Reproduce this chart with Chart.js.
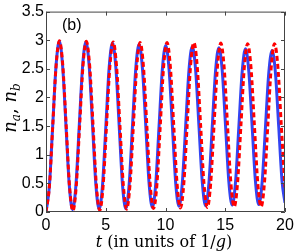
<!DOCTYPE html>
<html>
<head>
<meta charset="utf-8">
<script src="https://cdn.jsdelivr.net/npm/chart.js@4.4.0/dist/chart.umd.min.js"></script>
<style>
	html, body { margin: 0; padding: 0; background: #fff; }
	canvas { display: block; }
</style>
</head>
<body>
<canvas id="chart" width="300" height="252"></canvas>
<script>
	"use strict";

	// n_a (blue, solid)
	var blueT = [
		0, 0.278, 0.557, 0.835, 1.113, 1.391, 1.670, 1.948,
		2.226, 2.504, 2.783, 3.061, 3.339, 3.617, 3.896, 4.174,
		4.452, 4.730, 5.009, 5.287, 5.565, 5.843, 6.122, 6.400,
		6.678, 6.956, 7.235, 7.513, 7.791, 8.069, 8.348, 8.626,
		8.904, 9.182, 9.461, 9.739, 10.017, 10.295, 10.574, 10.852,
		11.130, 11.408, 11.687, 11.965, 12.243, 12.521, 12.800, 13.078,
		13.356, 13.634, 13.913, 14.191, 14.469, 14.747, 15.026, 15.304,
		15.582, 15.860, 16.139, 16.417, 16.695, 16.973, 17.252, 17.530,
		17.808, 18.086, 18.365, 18.643, 18.921, 19.199, 19.478, 19.756,
		20
	];
	var blueN = [
		0, 0.44, 1.49, 2.54, 2.98, 2.55, 1.51, 0.47,
		0.04, 0.47, 1.51, 2.54, 2.97, 2.54, 1.51, 0.48,
		0.05, 0.47, 1.50, 2.53, 2.95, 2.53, 1.51, 0.48,
		0.06, 0.48, 1.50, 2.51, 2.93, 2.51, 1.51, 0.50,
		0.08, 0.49, 1.50, 2.50, 2.91, 2.50, 1.51, 0.51,
		0.10, 0.51, 1.50, 2.48, 2.89, 2.48, 1.50, 0.52,
		0.11, 0.51, 1.49, 2.47, 2.87, 2.47, 1.50, 0.52,
		0.12, 0.52, 1.49, 2.45, 2.85, 2.45, 1.49, 0.53,
		0.13, 0.52, 1.48, 2.43, 2.82, 2.43, 1.48, 0.53,
		0.16
	];

	// n_b (red, dashed)
	var redT = [
		0, 0.281, 0.563, 0.844, 1.125, 1.406, 1.688, 1.969,
		2.250, 2.531, 2.813, 3.094, 3.375, 3.656, 3.938, 4.219,
		4.500, 4.781, 5.063, 5.344, 5.625, 5.906, 6.188, 6.469,
		6.750, 7.031, 7.313, 7.594, 7.875, 8.156, 8.438, 8.719,
		9.000, 9.281, 9.563, 9.844, 10.125, 10.406, 10.688, 10.969,
		11.250, 11.531, 11.813, 12.094, 12.375, 12.656, 12.938, 13.219,
		13.500, 13.781, 14.063, 14.344, 14.625, 14.906, 15.188, 15.469,
		15.750, 16.031, 16.313, 16.594, 16.875, 17.156, 17.438, 17.719,
		18.000, 18.281, 18.563, 18.844, 19.125, 19.406, 19.688, 19.969,
		20
	];
	var redN = [
		0, 0.44, 1.50, 2.55, 2.99, 2.56, 1.51, 0.45,
		0.02, 0.45, 1.50, 2.55, 2.98, 2.55, 1.51, 0.46,
		0.03, 0.46, 1.50, 2.54, 2.97, 2.54, 1.51, 0.48,
		0.05, 0.48, 1.51, 2.54, 2.96, 2.54, 1.51, 0.48,
		0.06, 0.48, 1.51, 2.54, 2.96, 2.54, 1.52, 0.49,
		0.07, 0.49, 1.52, 2.54, 2.96, 2.54, 1.52, 0.50,
		0.08, 0.50, 1.52, 2.53, 2.95, 2.53, 1.52, 0.51,
		0.09, 0.51, 1.52, 2.52, 2.94, 2.52, 1.52, 0.51,
		0.09, 0.51, 1.52, 2.52, 2.94, 2.53, 1.52, 0.52,
		0.43
	];

	var xTicks = [0, 5, 10, 15, 20];
	var yTicks = [0, 0.5, 1, 1.5, 2, 2.5, 3, 3.5];

	var axisColor = '#444';
	var tickFont = { family: "'Liberation Sans', Arial, sans-serif", size: 16 };
	var serif = "'DejaVu Serif', 'Liberation Serif', serif";

	function points( xs, ys ) {
		return xs.map(function( x, i ) { return { x: x, y: ys[i] }; });
	}

	// draw a run of text pieces (with subscript offsets) starting at x
	function drawRun( ctx, pieces, x, y ) {
		pieces.forEach(function( p ) {
			ctx.font = p.font;
			ctx.fillText(p.text, x, y + (p.dy || 0));
			x += ctx.measureText(p.text).width;
		});
	}

	function runWidth( ctx, pieces ) {
		var w = 0;
		pieces.forEach(function( p ) {
			ctx.font = p.font;
			w += ctx.measureText(p.text).width;
		});
		return w;
	}

	// box around the plot, inward ticks, axis titles and panel tag
	const frame = {
		id: 'matlab_frame',
		afterDraw: (chart) => {
			const ctx = chart.ctx;
			const {top, left, right, bottom} = chart.chartArea;
			const xs = chart.scales.x, ys = chart.scales.y;
			const tl = 4;

			ctx.save();
			ctx.strokeStyle = axisColor;
			ctx.lineWidth = 1;
			ctx.beginPath();
			ctx.rect(left + 0.5, top + 0.5, right - left - 1, bottom - top - 1);
			xTicks.forEach(function( v ) {
				var px = Math.round(xs.getPixelForValue(v)) + 0.5;
				ctx.moveTo(px, bottom); ctx.lineTo(px, bottom - tl);
				ctx.moveTo(px, top); ctx.lineTo(px, top + tl);
			});
			yTicks.forEach(function( v ) {
				var py = Math.round(ys.getPixelForValue(v)) + 0.5;
				ctx.moveTo(left, py); ctx.lineTo(left + tl, py);
				ctx.moveTo(right, py); ctx.lineTo(right - tl, py);
			});
			ctx.stroke();

			ctx.fillStyle = '#000';
			ctx.textBaseline = 'alphabetic';
			ctx.textAlign = 'left';

			// panel tag
			ctx.font = "16px 'Liberation Sans', Arial, sans-serif";
			ctx.fillText('(b)', 62, 30);

			// x title
			var xt = [
				{ text: 't', font: 'italic 16px ' + serif },
				{ text: ' (in units of 1/', font: '16px ' + serif },
				{ text: 'g', font: 'italic 16px ' + serif },
				{ text: ')', font: '16px ' + serif }
			];
			var w = runWidth(ctx, xt);
			drawRun(ctx, xt, 164 - w / 2, 247);

			// y title, rotated
			var yt = [
				{ text: 'n', font: 'italic 18px ' + serif },
				{ text: 'a', font: 'italic 12px ' + serif, dy: 4 },
				{ text: ', ', font: '18px ' + serif },
				{ text: 'n', font: 'italic 18px ' + serif },
				{ text: 'b', font: 'italic 12px ' + serif, dy: 4 }
			];
			ctx.translate(16, 108);
			ctx.rotate(-Math.PI / 2);
			w = runWidth(ctx, yt);
			drawRun(ctx, yt, -w / 2, 0);
			ctx.restore();
		}
	};

	const config = {
		type: 'line',
		data: {
			datasets: [{
				label: 'n_b',
				data: points(redT, redN),
				borderColor: '#ff0000',
				borderWidth: 3,
				borderDash: [5, 3],
				cubicInterpolationMode: 'monotone',
				pointRadius: 0,
				fill: false,
				order: 0
			}, {
				label: 'n_a',
				data: points(blueT, blueN),
				borderColor: '#3344f2',
				borderWidth: 3,
				cubicInterpolationMode: 'monotone',
				pointRadius: 0,
				fill: false,
				order: 1
			}]
		},
		options: {
			responsive: false,
			animation: false,
			layout: { padding: { top: 10, right: 15, left: 0, bottom: 0 } },
			plugins: {
				legend: { display: false },
				tooltip: { enabled: false }
			},
			scales: {
				x: {
					type: 'linear',
					min: 0,
					max: 20,
					afterBuildTicks: (s) => { s.ticks = xTicks.map(function( v ) { return { value: v }; }); },
					afterFit: (s) => { s.height = 40; },
					grid: { display: false, drawTicks: false, tickLength: 0 },
					border: { display: false },
					ticks: { color: '#000', font: tickFont, padding: 4, maxRotation: 0,
						callback: (v) => String(v) }
				},
				y: {
					min: 0,
					max: 3.5,
					afterBuildTicks: (s) => { s.ticks = yTicks.map(function( v ) { return { value: v }; }); },
					afterFit: (s) => { s.width = 46; },
					grid: { display: false, drawTicks: false, tickLength: 0 },
					border: { display: false },
					ticks: { color: '#000', font: tickFont, padding: 2,
						callback: (v) => String(v) }
				}
			}
		},
		plugins: [frame]
	};

	var ctx = document.getElementById('chart').getContext('2d');
	new Chart( ctx, config );
</script>
</body>
</html>
